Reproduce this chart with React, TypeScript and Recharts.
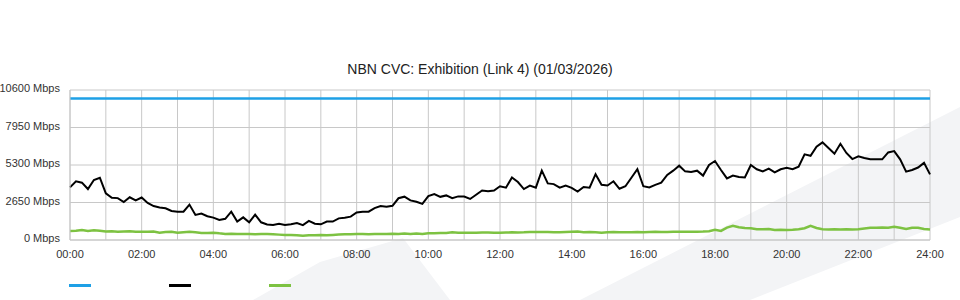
import React from 'react';
import { LineChart, Line, XAxis, YAxis, CartesianGrid } from 'recharts';

const title = 'NBN CVC: Exhibition (Link 4) (01/03/2026)';
const sampleMinutes = 10;

// link capacity (flat)
const capacity = 10000;

// 10 minute samples, 00:00 .. 24:00
const traffic = [
  3720, 4150, 4050, 3600, 4240, 4400,
  3300, 2980, 2960, 2680, 3020, 2800,
  3000, 2620, 2400, 2300, 2240, 2050,
  1990, 2000, 2500, 1770, 1870, 1680,
  1580, 1410, 1500, 2000, 1300, 1600,
  1250, 1800, 1250, 1100, 1060, 1150,
  1060, 1110, 1200, 1050, 1350, 1150,
  1110, 1300, 1300, 1530, 1580, 1650,
  1950, 2000, 2000, 2250, 2400, 2350,
  2420, 2950, 3060, 2800, 2700, 2550,
  3100, 3250, 3050, 3150, 2950, 3080,
  3070, 2900, 3200, 3500, 3450, 3500,
  3800, 3700, 4420, 4100, 3600, 3850,
  3700, 4900, 4000, 3950, 3700, 3850,
  3690, 3420, 3750, 3700, 4650, 3900,
  3850, 4150, 3620, 3800, 4400, 5000,
  3800, 3720, 3900, 4050, 4600, 4900,
  5250, 4850, 4800, 4900, 4550, 5300,
  5580, 4950, 4350, 4550, 4450, 4420,
  5300, 5000, 4850, 5050, 4780, 5000,
  5100, 5000, 5180, 6050, 5950, 6590,
  6900, 6500, 6100, 6800, 6150, 5720,
  5920, 5790, 5700, 5700, 5700, 6190,
  6280, 5700, 4830, 4950, 5120, 5450,
  4640,
];

const other = [
  640, 660, 700, 640, 690, 650,
  600, 620, 580, 600, 620, 580,
  590, 580, 600, 520, 560, 580,
  520, 550, 580, 540, 500, 490,
  520, 470, 430, 440, 420, 430,
  420, 410, 420, 420, 410, 380,
  350, 350, 330, 300, 340, 340,
  350, 340, 360, 380, 400, 400,
  420, 420, 400, 430, 430, 430,
  440, 430, 460, 430, 460, 430,
  470, 480, 500, 490, 540, 520,
  520, 510, 520, 530, 530, 520,
  520, 530, 540, 530, 540, 560,
  560, 560, 560, 550, 540, 560,
  580, 600, 540, 560, 540, 520,
  540, 560, 540, 540, 540, 560,
  540, 560, 580, 560, 560, 580,
  590, 580, 590, 590, 600, 620,
  720, 640, 880, 1000, 900, 850,
  830, 760, 760, 780, 700, 720,
  710, 720, 760, 830, 1000, 850,
  760, 740, 760, 740, 760, 750,
  760, 820, 870, 870, 880, 870,
  940, 870, 780, 870, 870, 780,
  750,
];

const yTicks = [0, 2650, 5300, 7950, 10600];
const hourTicks = [
  0, 60, 120, 180, 240, 300, 360, 420, 480, 540, 600, 660, 720,
  780, 840, 900, 960, 1020, 1080, 1140, 1200, 1260, 1320, 1380, 1440,
];
const hourLabels = [
  '00:00', '', '02:00', '', '04:00', '', '06:00', '', '08:00', '', '10:00', '', '12:00',
  '', '14:00', '', '16:00', '', '18:00', '', '20:00', '', '22:00', '', '24:00',
];

const series = [
  { key: 'capacity', color: '#1ea0e6', width: 2.5 },
  { key: 'traffic', color: '#000000', width: 2 },
  { key: 'other', color: '#7dc242', width: 2.5 },
];

const data = traffic.map((v, i) => ({
  t: i * sampleMinutes,
  capacity,
  traffic: v,
  other: other[i],
}));

const font = '"Liberation Sans", Arial, sans-serif';

function YTick(props: any) {
  const { x, y, payload } = props;
  return (
    <text x={x} y={y} dy={2} textAnchor="end" fontSize={11} fill="#333" fontFamily={font}>
      {payload.value} Mbps
    </text>
  );
}

export default function App() {
  return (
    <div style={{ position: 'fixed', left: 0, top: 0, width: 960, height: 300, background: '#fff', overflow: 'hidden' }}>
      <svg width={960} height={300} style={{ position: 'absolute', left: 0, top: 0 }}>
        <polygon points="253,300 320,262 403,238 450,300" fill="#f3f4f6" />
        <polygon points="580,300 960,107 960,217 750,300" fill="#f3f4f6" />
      </svg>
      <div
        style={{
          position: 'absolute', left: 0, top: 61, width: 960, textAlign: 'center',
          fontFamily: font, fontSize: 14, color: '#222',
        }}
      >
        {title}
      </div>
      <div style={{ position: 'absolute', left: 0, top: 0 }}>
        <LineChart width={960} height={300} data={data} margin={{ top: 90, right: 30, bottom: 30, left: 0 }}>
          <CartesianGrid stroke="#c8c8c8" />
          <XAxis
            dataKey="t"
            type="number"
            domain={[0, 1440]}
            ticks={hourTicks}
            interval={0}
            height={30}
            tickFormatter={(v: number) => hourLabels[hourTicks.indexOf(v)]}
            stroke="#c8c8c8"
            tickLine={false}
            tickSize={6}
            tickMargin={4}
            tick={{ fontSize: 11, fill: '#333', fontFamily: font }}
          />
          <YAxis
            type="number"
            domain={[0, 10600]}
            ticks={yTicks}
            interval={0}
            width={70}
            stroke="#c8c8c8"
            tickLine={false}
            tickSize={6}
            tickMargin={4}
            tick={<YTick />}
          />
          {series.map((s) => (
            <Line
              key={s.key}
              type="linear"
              dataKey={s.key}
              stroke={s.color}
              strokeWidth={s.width}
              dot={false}
              activeDot={false}
              isAnimationActive={false}
            />
          ))}
        </LineChart>
      </div>
      {series.map((s, i) => (
        <div
          key={s.key}
          style={{ position: 'absolute', left: 69 + i * 100, top: 284, width: 22, height: 3, background: s.color }}
        />
      ))}
    </div>
  );
}
